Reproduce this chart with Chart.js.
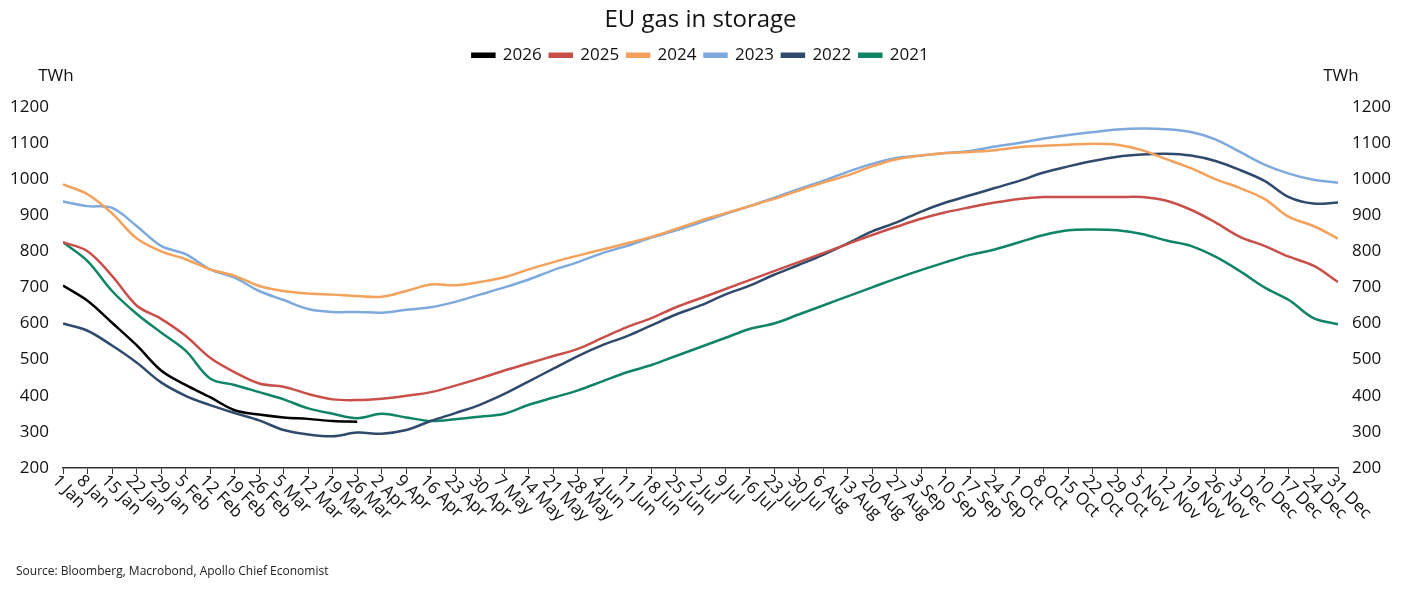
<!DOCTYPE html>
<html>
<head>
<meta charset="utf-8">
<script src="https://cdn.jsdelivr.net/npm/chart.js@4/dist/chart.umd.min.js"></script>
<style>
  body { margin: 0; background: #fff; }
  #wrap { position: relative; width: 1401px; height: 591px; }
  #src { position: absolute; left: 16px; top: 562px; font: 12px "Open Sans", sans-serif; color: #222; }
</style>
</head>
<body>
<div id="wrap">
<canvas id="Graph" width="1401" height="591"></canvas>
<div id="src">Source: Bloomberg, Macrobond, Apollo Chief Economist</div>
</div>
<script>
let canvas = document.getElementById("Graph");

// weekly ticks, day-of-year 0..364
const weekLabels = ['1 Jan','8 Jan','15 Jan','22 Jan','29 Jan','5 Feb','12 Feb','19 Feb','26 Feb','5 Mar','12 Mar','19 Mar','26 Mar',
  '2 Apr','9 Apr','16 Apr','23 Apr','30 Apr','7 May','14 May','21 May','28 May','4 Jun','11 Jun','18 Jun','25 Jun',
  '2 Jul','9 Jul','16 Jul','23 Jul','30 Jul','6 Aug','13 Aug','20 Aug','27 Aug','3 Sep','10 Sep','17 Sep','24 Sep',
  '1 Oct','8 Oct','15 Oct','22 Oct','29 Oct','5 Nov','12 Nov','19 Nov','26 Nov','3 Dec','10 Dec','17 Dec','24 Dec','31 Dec'];
const weekDays = weekLabels.map((l, i) => i === 52 ? 364 : i * 7);

const y2026 = [705,663,602,540,470,430,396,360,348,340,336,330,328];
const y2025 = [825,800,732,650,613,566,505,465,434,425,405,390,388,392,400,410,428,448,470,490,510,530,560,590,615,645,
  670,695,720,745,770,795,820,845,868,890,908,922,935,945,950,950,950,950,950,940,915,880,840,815,785,760,715];
const y2024 = [985,958,905,836,800,778,750,732,704,690,683,680,676,674,690,708,706,715,728,750,770,788,805,822,840,862,
  885,905,925,945,968,990,1010,1035,1055,1065,1072,1075,1080,1088,1092,1095,1098,1095,1080,1055,1030,1000,975,945,895,870,835];
const y2023 = [938,925,920,870,815,792,750,727,690,665,640,632,632,630,638,645,660,680,700,722,748,770,795,815,838,858,
  880,903,925,948,972,995,1020,1042,1058,1065,1072,1078,1090,1100,1112,1122,1130,1137,1140,1138,1130,1110,1075,1040,1015,998,990];
const y2022 = [600,580,539,492,437,400,374,352,332,305,293,288,298,295,305,330,352,375,405,440,475,510,540,565,595,625,
  650,680,705,735,762,790,822,855,880,910,935,955,975,995,1018,1035,1050,1062,1068,1070,1065,1050,1025,995,950,932,935];
const y2021 = [825,773,690,627,575,525,448,430,410,390,365,350,338,350,340,330,335,342,350,375,395,415,440,465,485,510,
  535,560,585,600,625,650,675,700,725,748,770,790,805,825,845,858,860,858,848,830,815,785,745,700,665,615,598];

const series = [
  ['2026', y2026, '#000000'],
  ['2025', y2025, '#c9504a'],
  ['2024', y2024, '#f4a15b'],
  ['2023', y2023, '#7ea9dc'],
  ['2022', y2022, '#2f4a6c'],
  ['2021', y2021, '#0f8466'],
];

const FONT = '"Open Sans", sans-serif';

const extras = {
  id: 'extras',
  beforeInit(chart) {
    const fit = chart.legend.fit;
    chart.legend.fit = function () { fit.call(this); this.height += 33; };
  },
  afterDraw(chart) {
    const c = chart.ctx, x = chart.scales.x, a = chart.chartArea;
    c.save();
    c.fillStyle = '#111';
    c.font = '17px ' + FONT;
    weekLabels.forEach((l, i) => {
      const px = x.getPixelForValue(weekDays[i]);
      c.save();
      c.translate(px - 8, a.bottom + 10);
      c.rotate(Math.PI / 4);
      c.textAlign = 'left';
      c.textBaseline = 'middle';
      c.fillText(l, 0, 0);
      c.restore();
    });
    c.textBaseline = 'middle';
    c.textAlign = 'center';
    c.fillText('TWh', 56, 76);
    c.fillText('TWh', 1341, 76);
    c.restore();
  }
};

const axisY = (pos) => ({
  type: 'linear', position: pos, min: 200, max: 1200,
  grid: { display: false }, border: { display: false },
  ticks: { stepSize: 100, color: '#111', font: { size: 17, family: FONT }, padding: 6,
    callback: v => String(v) },
  afterFit: s => { s.width = 63; }
});

new Chart(canvas, {
  type: 'line',
  data: {
    datasets: series.map(([label, vals, col]) => ({
      label, borderColor: col, backgroundColor: col, yAxisID: 'yl',
      data: vals.map((v, i) => ({ x: weekDays[i], y: v })),
      borderWidth: 2.5, pointRadius: 0, tension: 0.35
    }))
  },
  options: {
    responsive: false, animation: false,
    plugins: {
      title: { display: true, text: 'EU gas in storage', color: '#111',
        font: { size: 24, family: FONT, weight: 'normal' }, padding: { top: 6, bottom: 4 } },
      legend: { labels: { boxWidth: 22, boxHeight: 3, color: '#111', padding: 8,
        font: { size: 17, family: FONT } } },
      tooltip: { enabled: false }
    },
    scales: {
      x: {
        type: 'linear', min: 0, max: 364,
        afterBuildTicks: s => { s.ticks = weekDays.map(v => ({ value: v })); },
        ticks: { callback: () => '', autoSkip: false },
        grid: { drawOnChartArea: false, tickLength: 6, color: '#333' },
        border: { color: '#333', width: 1.5 },
        afterFit: s => { s.height = 123; }
      },
      yl: axisY('left'),
      yr: axisY('right')
    }
  },
  plugins: [extras]
});
</script>
</body>
</html>
